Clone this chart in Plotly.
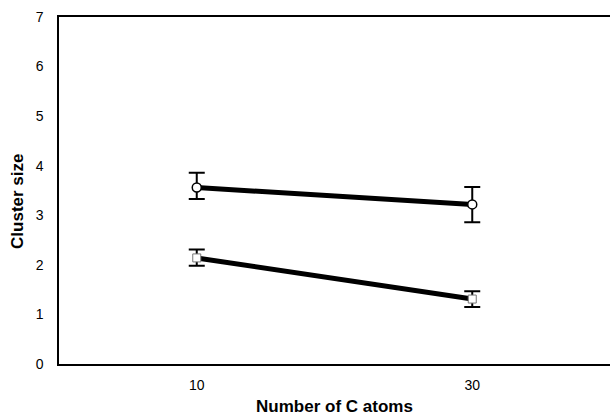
import plotly.graph_objects as go

carbon_atoms = [10, 30]
circle_size = [3.56, 3.22]
circle_err_plus = [0.30, 0.35]
circle_err_minus = [0.23, 0.36]
square_size = [2.14, 1.31]
square_err_plus = [0.17, 0.16]
square_err_minus = [0.16, 0.16]
x_ticks = [10, 30]
x_tick_labels = ["10", "30"]
y_ticks = [0, 1, 2, 3, 4, 5, 6, 7]

fig = go.Figure()
fig.add_trace(go.Scatter(
    x=carbon_atoms, y=circle_size, mode="lines+markers",
    line=dict(color="black", width=5),
    marker=dict(symbol="circle", size=9, color="white", line=dict(color="black", width=1.5)),
    error_y=dict(type="data", symmetric=False, array=circle_err_plus, arrayminus=circle_err_minus,
                 color="black", thickness=2, width=8),
    showlegend=False,
))
fig.add_trace(go.Scatter(
    x=carbon_atoms, y=square_size, mode="lines+markers",
    line=dict(color="black", width=5),
    marker=dict(symbol="square", size=8, color="white", line=dict(color="#777777", width=1)),
    error_y=dict(type="data", symmetric=False, array=square_err_plus, arrayminus=square_err_minus,
                 color="black", thickness=2, width=8),
    showlegend=False,
))

fig.update_layout(
    width=610, height=416,
    margin=dict(l=59, r=0, t=17, b=52),
    paper_bgcolor="white", plot_bgcolor="white",
    font=dict(family="Liberation Sans, Arial, sans-serif", color="black", size=14),
    xaxis=dict(
        range=[0, 40], tickvals=x_ticks, ticktext=x_tick_labels,
        showgrid=False, zeroline=False, showline=True, linecolor="black", linewidth=1.5,
        mirror=True, ticks="", ticklabelstandoff=7,
        tickfont=dict(size=14),
        title=dict(text="<b>Number of C atoms</b>", font=dict(size=17), standoff=10),
    ),
    yaxis=dict(
        range=[0, 7], tickvals=y_ticks,
        showgrid=False, zeroline=False, showline=True, linecolor="black", linewidth=1.5,
        ticks="", ticklabelstandoff=11,
        tickfont=dict(size=14),
    ),
    annotations=[dict(
        text="<b>Cluster size</b>", textangle=-90, showarrow=False,
        xref="paper", yref="paper", x=-0.0744, y=0.467,
        xanchor="center", yanchor="middle", font=dict(size=17),
    )],
)

fig.write_html("out.html")
